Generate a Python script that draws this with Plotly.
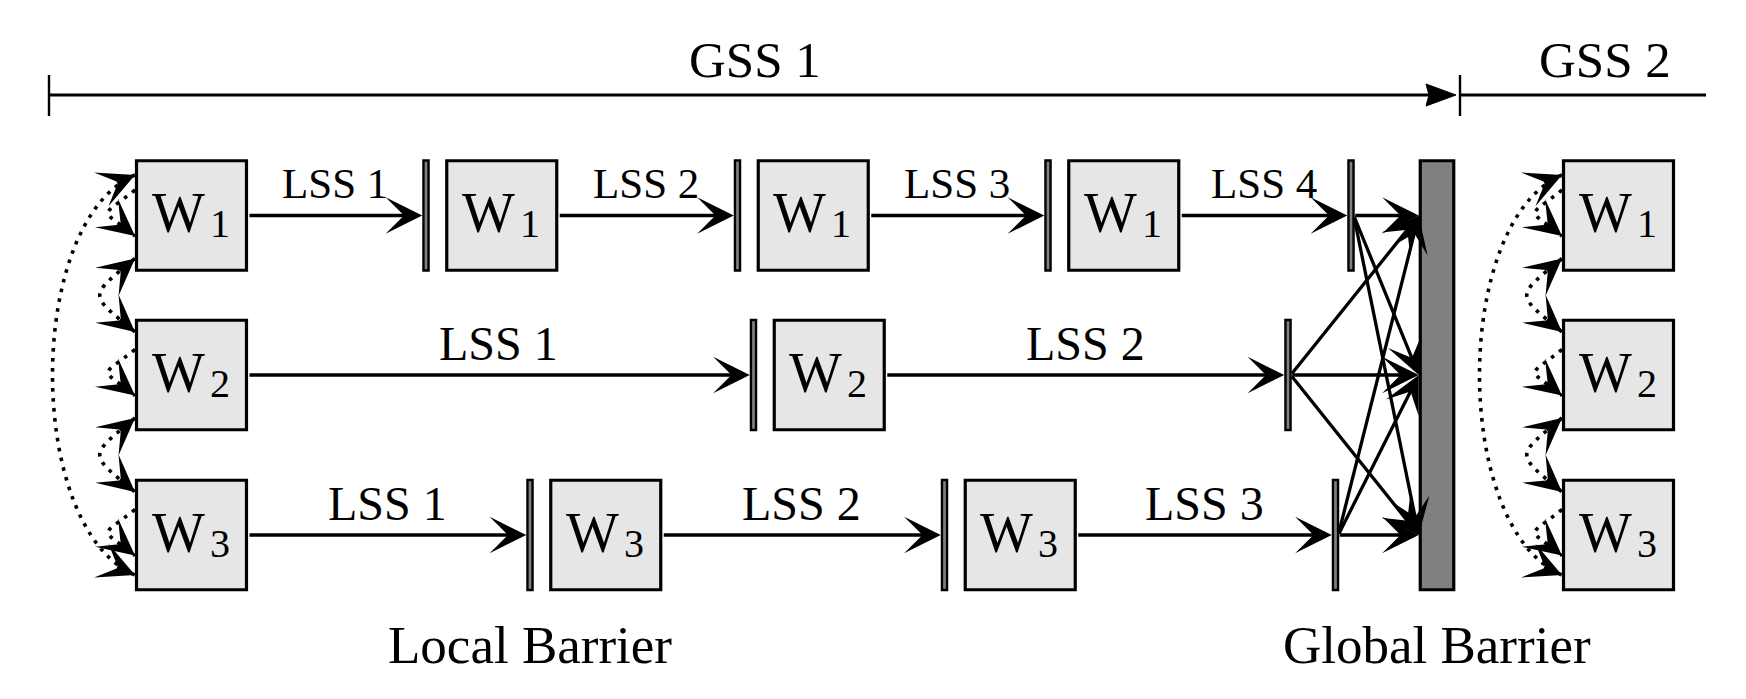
import math
import plotly.graph_objects as go

# ---- data ---------------------------------------------------------------
workers = ["1", "2", "3"]

# position (time axis) of every local barrier, one list per worker
barriers_w1 = [426, 737.5, 1048, 1351]
barriers_w2 = [753.5, 1288]
barriers_w3 = [530, 944.5, 1335.5]

# global supersteps: start, global barrier, end of the visible part of GSS 2
gss_labels = ["GSS 1", "GSS 2"]
gss_bounds = [49, 1460, 1706]
global_barrier = 1437

# start of the first local superstep in each global superstep
step_starts = [135, 1562]

bottom_labels = ["Local Barrier", "Global Barrier"]

# ---- layout constants -----------------------------------------------------
W, H = 1746, 699
ROW_Y = [215.5, 375, 535]
BOX_W, BOX_H = 113, 112.5
BAR_W = 7.5
GAP = 15.5
GB_W = 36.5
GSS_Y = 95
FONT = "Liberation Serif, DejaVu Serif, serif"
LSS_SIZE = [43, 48, 48]
BOX_FILL = "#e6e6e6"
BAR_FILL = "#808080"
LINE_W = 3.3
HEAD = 1.85

fig = go.Figure()
fig.add_trace(go.Scatter(x=[0, W], y=[0, H], mode="markers",
                         marker=dict(opacity=0), hoverinfo="skip"))

shapes = []
annotations = []


def text(x, y, s, size, xanchor="center"):
    annotations.append(dict(x=x, y=y, xref="x", yref="y", text=s,
                            showarrow=False, xanchor=xanchor,
                            yanchor="middle",
                            font=dict(family=FONT, size=size, color="black")))


def arrow(x0, y0, x1, y1, width=LINE_W, size=HEAD):
    annotations.append(dict(x=x1, y=y1, ax=x0, ay=y0, xref="x", yref="y",
                            axref="x", ayref="y", text="", showarrow=True,
                            arrowhead=3, arrowsize=size, arrowwidth=width,
                            arrowcolor="black", standoff=0))


def box(left, yc, label):
    shapes.append(dict(type="rect", xref="x", yref="y",
                       x0=left + 1.5, x1=left + BOX_W - 1.5,
                       y0=yc - BOX_H / 2 + 1.5, y1=yc + BOX_H / 2 - 1.5,
                       fillcolor=BOX_FILL, line=dict(color="black", width=3.2),
                       layer="above"))
    xc = left + BOX_W / 2
    text(xc + 15, yc - 2.5, "W", 56, "right")
    text(xc + 16, yc + 8, label, 40, "left")


def bar(xc, yc):
    shapes.append(dict(type="rect", xref="x", yref="y",
                       x0=xc - BAR_W / 2 + 1.2, x1=xc + BAR_W / 2 - 1.2,
                       y0=yc - BOX_H / 2 + 1.2, y1=yc + BOX_H / 2 - 1.2,
                       fillcolor=BAR_FILL, line=dict(color="black", width=2.4),
                       layer="above"))


def dotted_arc(x, y0, y1, h, v, head_start):
    # cubic bend to the left of the boxes, arrow head at the end (and start)
    path = (f"M{x},{y0} C{x - h},{y0 + v} {x - h},{y1 - v} {x},{y1}")
    shapes.append(dict(type="path", xref="x", yref="y", path=path,
                       line=dict(color="black", width=3.6,
                                 dash="3.6px,6.4px")))
    n = math.hypot(h, v)
    k = 16 / n
    arrow(x - h * k, y1 - v * k, x, y1)
    if head_start:
        arrow(x - h * k, y0 + v * k, x, y0)


# ---- GSS time line ---------------------------------------------------------
g0, g1, g2 = gss_bounds
shapes.append(dict(type="line", xref="x", yref="y", x0=g0, x1=g1 - 30,
                   y0=GSS_Y, y1=GSS_Y, line=dict(color="black", width=3)))
shapes.append(dict(type="path", xref="x", yref="y",
                   path=(f"M{g1 - 4},{GSS_Y} L{g1 - 34},{GSS_Y - 11} "
                         f"L{g1 - 31},{GSS_Y} L{g1 - 34},{GSS_Y + 11} Z"),
                   fillcolor="black", line=dict(color="black", width=1)))
shapes.append(dict(type="line", xref="x", yref="y", x0=g1, x1=g2,
                   y0=GSS_Y, y1=GSS_Y, line=dict(color="black", width=3)))
for gx in (g0, g1):
    shapes.append(dict(type="line", xref="x", yref="y", x0=gx, x1=gx,
                       y0=GSS_Y - 20, y1=GSS_Y + 21,
                       line=dict(color="black", width=2.4)))
text((g0 + g1) / 2, 60, gss_labels[0], 51)
text(1605, 60, gss_labels[1], 51)

# ---- local supersteps ---------------------------------------------------
rows = [barriers_w1, barriers_w2, barriers_w3]
for r, (w, bars) in enumerate(zip(workers, rows)):
    yc = ROW_Y[r]
    left = step_starts[0]
    for k, b in enumerate(bars):
        box(left, yc, w)
        x_from = left + BOX_W
        x_to = b - BAR_W / 2
        arrow(x_from, yc, x_to, yc)
        text((x_from + x_to) / 2, yc - 32, f"LSS {k + 1}", LSS_SIZE[r])
        bar(b, yc)
        left = b + BAR_W / 2 + GAP
    # every worker's last barrier sends to every row of the global barrier
    for yt in ROW_Y:
        arrow(bars[-1] + BAR_W / 2 - 1, yc, global_barrier - GB_W / 2, yt)
    # boxes of the next global superstep
    box(step_starts[1], yc, w)

# global barrier
shapes.append(dict(type="rect", xref="x", yref="y",
                   x0=global_barrier - GB_W / 2 + 1.5,
                   x1=global_barrier + GB_W / 2 - 1.5,
                   y0=ROW_Y[0] - BOX_H / 2 + 1.5,
                   y1=ROW_Y[-1] + BOX_H / 2 - 1.5,
                   fillcolor=BAR_FILL, line=dict(color="black", width=3.2)))

# ---- dotted communication arcs -------------------------------------------
for sx in step_starts:
    for yc in ROW_Y:
        dotted_arc(sx, yc - 25.5, yc + 20.5, 36, 29, False)
    for ya, yb in zip(ROW_Y[:-1], ROW_Y[1:]):
        dotted_arc(sx, ya + 43, yb - 43, 47, 39, True)
    dotted_arc(sx, ROW_Y[0] - 40.5, ROW_Y[-1] + 40, 110, 47, True)

text(barriers_w3[0], 645, bottom_labels[0], 53)
text(global_barrier, 645, bottom_labels[1], 53)

fig.update_layout(
    width=W, height=H, margin=dict(l=0, r=0, t=0, b=0),
    paper_bgcolor="white", plot_bgcolor="white", showlegend=False,
    xaxis=dict(range=[0, W], visible=False, fixedrange=True),
    yaxis=dict(range=[H, 0], visible=False, fixedrange=True),
    shapes=shapes, annotations=annotations,
)

fig.write_html("out.html", config={"displayModeBar": False},
               post_script="document.body.style.margin='0';")
